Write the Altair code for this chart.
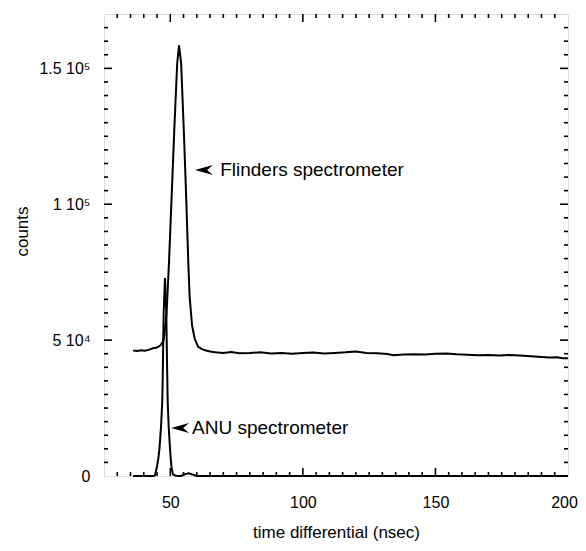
import altair as alt
import pandas as pd

# ---- data ----
flinders_x = [36, 37.5, 39, 40.5, 42, 43.5, 45, 46.2, 47.3, 47.7, 48.6, 49.5, 50.5, 51.5, 52.6, 53.3,
              54.1, 55.1, 56.0, 56.8, 57.3, 58.2, 59.2, 60.5, 62, 63.5, 65, 67, 70, 73, 76, 80, 84,
              88, 92, 96, 100, 104, 108, 112, 116, 120, 124, 128, 132, 134, 138, 142, 146, 150,
              154, 158, 162, 166, 170, 174, 178, 182, 186, 190, 193, 196, 198, 200]
flinders_y = [46200, 46000, 46300, 46100, 46500, 47000, 47300, 48000, 49500, 51500, 60000, 78300,
              102600, 127200, 151800, 158500, 151800, 127200, 102600, 78300, 66000, 55500, 50500,
              47500, 46700, 46200, 45800, 45500, 45300, 45600, 45200, 45300, 45500, 45100, 45300,
              45000, 45300, 45400, 45100, 45300, 45500, 45800, 45300, 45200, 44900, 44400, 44700,
              44800, 44700, 45000, 45100, 44800, 44600, 44400, 44500, 44300, 44500, 44300, 44100,
              43800, 43600, 43700, 43300, 43300]

anu_x = [36, 42, 43.8, 44.2, 44.9, 45.5, 45.9, 46.5, 47.0, 47.2, 47.5, 48.0, 48.5, 48.8, 49.0,
         49.4, 49.9, 50.2, 50.5, 51.0, 52, 54, 55.5, 57, 58.5, 60, 200]
anu_y = [0, 0, 0, 300, 3000, 6500, 10000, 18000, 28000, 40000, 60000, 72800, 60000, 40000, 28000,
         18000, 10000, 6000, 3000, 600, 100, 0, 700, 1000, 500, 0, 0]

x_tick_values = [50, 100, 150, 200]
x_tick_labels = ["50", "100", "150", "200"]
y_tick_values = [0, 50000, 100000, 150000]
y_tick_labels = ["0", "5 10\u2074", "1 10\u2075", "1.5 10\u2075"]

x_major = [50, 100, 150]
x_minor = [v for v in range(30, 200, 5) if v % 50 != 0]
y_major = [50000, 100000, 150000]
y_minor = [v for v in range(5000, 170000, 5000) if v % 50000 != 0]

ann_text = ["Flinders spectrometer", "ANU spectrometer"]
ann_x = [68.8, 58.2]
ann_y = [112600, 17660]
arrow_x = [62.7, 53.7]
arrow_y = [112600, 17660]

FONT = "Liberation Sans"
W, H = 464, 462

df = pd.concat([
    pd.DataFrame({"t": flinders_x, "c": flinders_y, "s": "Flinders"}),
    pd.DataFrame({"t": anu_x, "c": anu_y, "s": "ANU"}),
])

def expr(vals, labs):
    parts = " : ".join(f"datum.value == {v} ? '{l}'" for v, l in zip(vals, labs))
    return parts + " : ''"

xs = alt.Scale(domain=[25, 200], nice=False, zero=False)
ys = alt.Scale(domain=[0, 170000], nice=False)

xaxis = alt.Axis(values=x_tick_values, labelExpr=expr(x_tick_values, x_tick_labels),
                 ticks=False, tickSize=0, domain=False, grid=False, labelFlush=False,
                 labelOffset={"condition": {"test": "datum.value == 200", "value": -4}, "value": 0},
                 labelFontSize=16, labelFont=FONT, labelColor="black", labelPadding=18,
                 title="time differential (nsec)", titleFont=FONT, titleFontSize=17,
                 titleFontWeight="normal", titleColor="black", titleX=W / 2, titleY=56,
                 titleBaseline="middle")
yaxis = alt.Axis(values=y_tick_values, labelExpr=expr(y_tick_values, y_tick_labels),
                 ticks=False, tickSize=0, domain=False, grid=False, labelFlush=False,
                 labelFontSize=16, labelFont=FONT, labelColor="black", labelPadding=14,
                 title="counts", titleFont=FONT, titleFontSize=17, titleFontWeight="normal",
                 titleColor="black", titleX=-82, titleY=217, titleAngle=-90,
                 titleBaseline="middle", titleAlign="center")

lines = alt.Chart(df).mark_line(color="black", strokeWidth=2).encode(
    x=alt.X("t:Q", scale=xs, axis=xaxis),
    y=alt.Y("c:Q", scale=ys, axis=yaxis),
    detail="s:N",
)

TH = 1.6

def xticks(vals, size):
    d = pd.DataFrame({"v": vals})
    bot = alt.Chart(d).mark_tick(orient="vertical", size=size, thickness=TH, color="black",
                                 opacity=1, yOffset=-size / 2).encode(x="v:Q", y=alt.datum(0))
    top = alt.Chart(d).mark_tick(orient="vertical", size=size, thickness=TH, color="black",
                                 opacity=1, yOffset=size / 2).encode(x="v:Q", y=alt.datum(170000))
    return [bot, top]

def yticks(vals, size):
    d = pd.DataFrame({"v": vals})
    left = alt.Chart(d).mark_tick(orient="horizontal", size=size, thickness=TH, color="black",
                                  opacity=1, xOffset=size / 2).encode(y="v:Q", x=alt.datum(25))
    right = alt.Chart(d).mark_tick(orient="horizontal", size=size, thickness=TH, color="black",
                                   opacity=1, xOffset=-size / 2).encode(y="v:Q", x=alt.datum(200))
    return [left, right]

ann_df = pd.DataFrame({"x": ann_x, "y": ann_y, "txt": ann_text})
arr_df = pd.DataFrame({"x": arrow_x, "y": arrow_y})

texts = alt.Chart(ann_df).mark_text(align="left", baseline="middle", font=FONT, fontSize=19,
                                    color="black").encode(x="x:Q", y="y:Q", text="txt:N")
arrows = alt.Chart(arr_df).mark_point(shape="M -1 0 L 1 -0.55 L 0.35 0 L 1 0.55 Z", size=324,
                                      filled=True, color="black", opacity=1,
                                      strokeWidth=0).encode(x="x:Q", y="y:Q")

layers = [lines] + xticks(x_major, 8) + xticks(x_minor, 4) + yticks(y_major, 8) + \
    yticks(y_minor, 4) + [texts, arrows]

chart = alt.layer(*layers).properties(
    width=W, height=H,
    autosize=alt.AutoSizeParams(type="none"),
    padding={"left": 96, "top": 6, "right": 10, "bottom": 67},
).configure_view(stroke="black", strokeWidth=1.5).configure(background="white")

chart.save("out.html", embed_options={"renderer": "svg", "actions": False})
